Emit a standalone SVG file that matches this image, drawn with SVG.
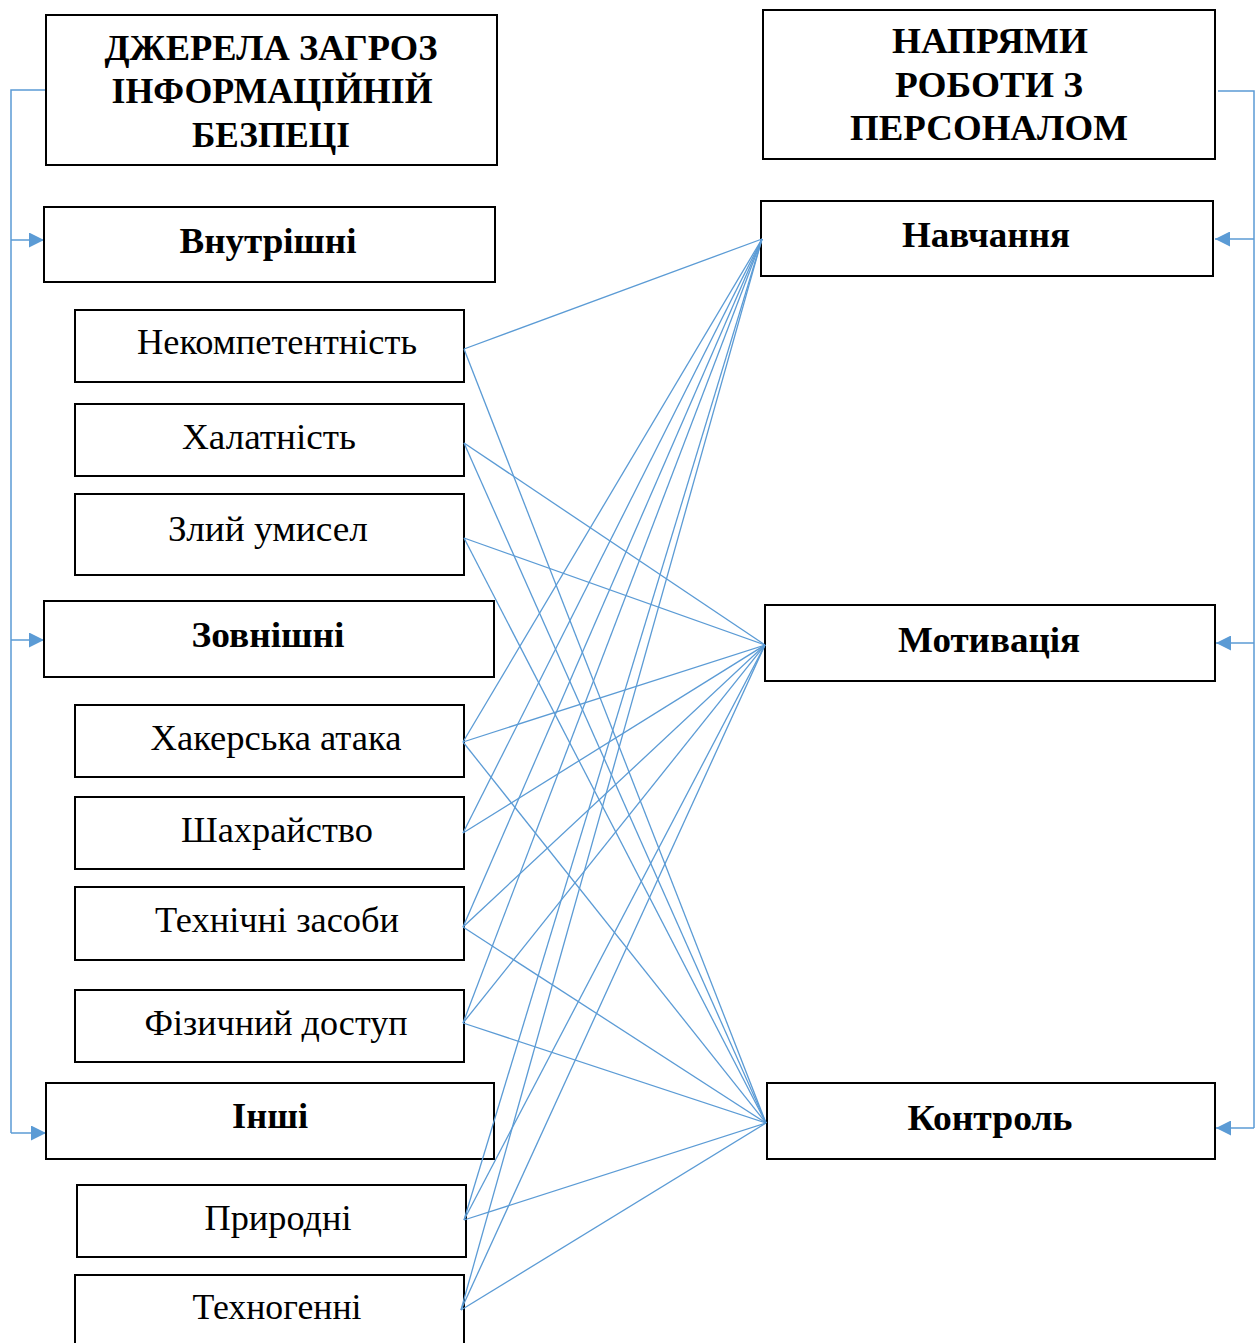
<svg xmlns="http://www.w3.org/2000/svg" width="1260" height="1343" viewBox="0 0 1260 1343">
<style>
.box{fill:#fff;stroke:#000;stroke-width:2}
.t{font-family:"Liberation Serif","Times New Roman",serif;font-size:35px;fill:#000;text-anchor:middle}
.b{font-weight:bold;font-size:36px}
.h{font-weight:bold;font-size:36px}
.c line{stroke:#5B9BD5;stroke-width:1.3}
.br{fill:none;stroke:#5B9BD5;stroke-width:1.5}
</style>
<defs>
<marker id="ar" viewBox="0 0 10 10" refX="10" refY="5" markerWidth="15" markerHeight="15" markerUnits="userSpaceOnUse" orient="auto">
<path d="M0,0 L10,5 L0,10 Z" fill="#5B9BD5"/>
</marker>
</defs>
<g id="brackets">
<path class="br" d="M46,90 H11 V1133"/>
<line class="br" x1="11" y1="240" x2="44" y2="240" marker-end="url(#ar)"/>
<line class="br" x1="11" y1="640" x2="44" y2="640" marker-end="url(#ar)"/>
<line class="br" x1="11" y1="1133" x2="46" y2="1133" marker-end="url(#ar)"/>
<path class="br" d="M1218,91 H1254 V1128"/>
<line class="br" x1="1254" y1="239" x2="1215" y2="239" marker-end="url(#ar)"/>
<line class="br" x1="1254" y1="643" x2="1216" y2="643" marker-end="url(#ar)"/>
<line class="br" x1="1254" y1="1128" x2="1216" y2="1128" marker-end="url(#ar)"/>
</g>
<g id="n-title-left"><rect class="box" x="46" y="15" width="451" height="150"/>
<text class="t h" x="271" y="60" textLength="333" lengthAdjust="spacingAndGlyphs">ДЖЕРЕЛА ЗАГРОЗ</text>
<text class="t h" x="272" y="103" textLength="321" lengthAdjust="spacingAndGlyphs">ІНФОРМАЦІЙНІЙ</text>
<text class="t h" x="271" y="147" textLength="158" lengthAdjust="spacingAndGlyphs">БЕЗПЕЦІ</text></g>
<g id="n-vnutr"><rect class="box" x="44" y="207" width="451" height="75"/><text class="t b" x="268" y="253" textLength="177" lengthAdjust="spacingAndGlyphs">Внутрішні</text></g>
<g id="n-nekomp"><rect class="box" x="75" y="310" width="389" height="72"/><text class="t" x="277" y="354" textLength="280" lengthAdjust="spacingAndGlyphs">Некомпетентність</text></g>
<g id="n-khal"><rect class="box" x="75" y="404" width="389" height="72"/><text class="t" x="269" y="449" textLength="174" lengthAdjust="spacingAndGlyphs">Халатність</text></g>
<g id="n-zlyi"><rect class="box" x="75" y="494" width="389" height="81"/><text class="t" x="268" y="541" textLength="200" lengthAdjust="spacingAndGlyphs">Злий умисел</text></g>
<g id="n-zovn"><rect class="box" x="44" y="601" width="450" height="76"/><text class="t b" x="268" y="647" textLength="153" lengthAdjust="spacingAndGlyphs">Зовнішні</text></g>
<g id="n-khaker"><rect class="box" x="75" y="705" width="389" height="72"/><text class="t" x="276" y="750" textLength="251" lengthAdjust="spacingAndGlyphs">Хакерська атака</text></g>
<g id="n-shakh"><rect class="box" x="75" y="797" width="389" height="72"/><text class="t" x="277" y="842" textLength="192" lengthAdjust="spacingAndGlyphs">Шахрайство</text></g>
<g id="n-tekhn"><rect class="box" x="75" y="887" width="389" height="73"/><text class="t" x="277" y="932" textLength="244" lengthAdjust="spacingAndGlyphs">Технічні засоби</text></g>
<g id="n-fiz"><rect class="box" x="75" y="990" width="389" height="72"/><text class="t" x="276" y="1035" textLength="263" lengthAdjust="spacingAndGlyphs">Фізичний доступ</text></g>
<g id="n-inshi"><rect class="box" x="46" y="1083" width="448" height="76"/><text class="t b" x="270" y="1128" textLength="76" lengthAdjust="spacingAndGlyphs">Інші</text></g>
<g id="n-pryr"><rect class="box" x="77" y="1185" width="389" height="72"/><text class="t" x="278" y="1230" textLength="147" lengthAdjust="spacingAndGlyphs">Природні</text></g>
<g id="n-tekhnog"><rect class="box" x="75" y="1275" width="389" height="80"/><text class="t" x="277" y="1319" textLength="169" lengthAdjust="spacingAndGlyphs">Техногенні</text></g>
<g id="n-title-right"><rect class="box" x="763" y="10" width="452" height="149"/>
<text class="t h" x="990" y="53" textLength="196" lengthAdjust="spacingAndGlyphs">НАПРЯМИ</text>
<text class="t h" x="989" y="97" textLength="188" lengthAdjust="spacingAndGlyphs">РОБОТИ З</text>
<text class="t h" x="989" y="140" textLength="278" lengthAdjust="spacingAndGlyphs">ПЕРСОНАЛОМ</text></g>
<g id="n-navch"><rect class="box" x="761" y="201" width="452" height="75"/><text class="t b" x="986" y="247" textLength="168" lengthAdjust="spacingAndGlyphs">Навчання</text></g>
<g id="n-motyv"><rect class="box" x="765" y="605" width="450" height="76"/><text class="t b" x="989" y="652" textLength="182" lengthAdjust="spacingAndGlyphs">Мотивація</text></g>
<g id="n-kontr"><rect class="box" x="767" y="1083" width="448" height="76"/><text class="t b" x="990" y="1130" textLength="165" lengthAdjust="spacingAndGlyphs">Контроль</text></g>
<g id="connectors" class="c">
<line x1="464" y1="349" x2="762" y2="239"/>
<line x1="464" y1="349" x2="766" y2="1123"/>
<line x1="464" y1="443" x2="765" y2="645"/>
<line x1="464" y1="443" x2="766" y2="1123"/>
<line x1="464" y1="538" x2="765" y2="645"/>
<line x1="464" y1="538" x2="766" y2="1123"/>
<line x1="463" y1="742" x2="762" y2="239"/>
<line x1="463" y1="742" x2="765" y2="645"/>
<line x1="463" y1="742" x2="766" y2="1123"/>
<line x1="463" y1="833" x2="762" y2="239"/>
<line x1="463" y1="833" x2="765" y2="645"/>
<line x1="463" y1="927" x2="762" y2="239"/>
<line x1="463" y1="927" x2="765" y2="645"/>
<line x1="463" y1="927" x2="766" y2="1123"/>
<line x1="463" y1="1023" x2="762" y2="239"/>
<line x1="463" y1="1023" x2="765" y2="645"/>
<line x1="463" y1="1023" x2="766" y2="1123"/>
<line x1="464" y1="1220" x2="762" y2="239"/>
<line x1="464" y1="1220" x2="765" y2="645"/>
<line x1="464" y1="1220" x2="766" y2="1123"/>
<line x1="461" y1="1310" x2="762" y2="239"/>
<line x1="461" y1="1310" x2="765" y2="645"/>
<line x1="461" y1="1310" x2="766" y2="1123"/>
</g>
</svg>
